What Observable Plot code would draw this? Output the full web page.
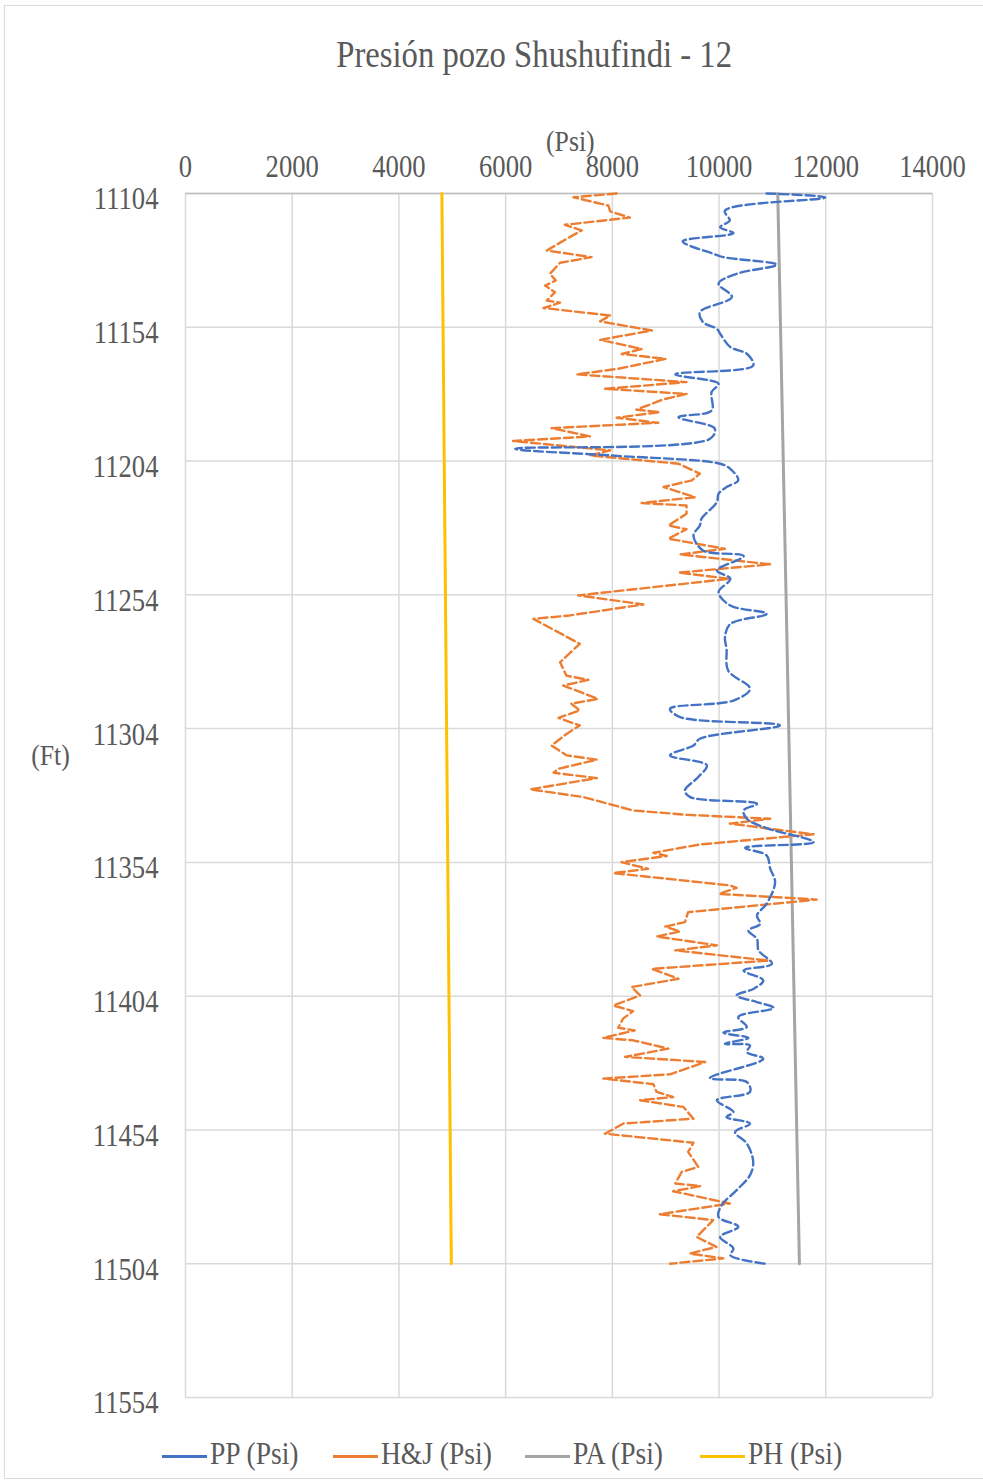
<!DOCTYPE html>
<html>
<head>
<meta charset="utf-8">
<script src="https://cdn.jsdelivr.net/npm/d3@7"></script>
<script src="https://cdn.jsdelivr.net/npm/@observablehq/plot@0.6"></script>
<style>
  html, body { margin: 0; padding: 0; background: #fff; }
  #wrap { position: relative; width: 983px; height: 1483px; overflow: hidden; font-family: "Liberation Serif", serif; color: #595959; }
  #frame { position: absolute; left: 4px; top: 5px; width: 990px; height: 1474px; border: 1px solid #d9d9d9; box-sizing: border-box; }
  .cond { display: inline-block; transform: scaleX(0.86); transform-origin: center; white-space: nowrap; }
  #title { position: absolute; top: 32px; left: 234px; width: 600px; text-align: center; font-size: 38px; }
  #psi { position: absolute; top: 124px; left: 470px; width: 200px; text-align: center; font-size: 30px; }
  #ft { position: absolute; top: 738px; left: 0px; width: 100px; text-align: center; font-size: 30px; }
  #chart { position: absolute; top: 100px; left: 0; }
  #legend { position: absolute; top: 1435px; left: 0; width: 983px; height: 42px; font-size: 32px; }
  .sw { position: absolute; top: 20px; width: 45px; height: 3px; }
  .lbl { position: absolute; top: 0; transform: scaleX(0.86); transform-origin: left center; white-space: nowrap; }
</style>
</head>
<body>
<div id="wrap">
  <div id="frame"></div>
  <div id="title"><span class="cond">Presión pozo Shushufindi - 12</span></div>
  <div id="psi"><span class="cond">(Psi)</span></div>
  <div id="ft"><span class="cond">(Ft)</span></div>
  <div id="chart"></div>
  <div id="legend"></div>
</div>
<script>
// ---- data ----
const xTicks = [0, 2000, 4000, 6000, 8000, 10000, 12000, 14000];
const yTicks = [11104, 11154, 11204, 11254, 11304, 11354, 11404, 11454, 11504, 11554];
const seriesNames = ["PP (Psi)", "H&J (Psi)", "PA (Psi)", "PH (Psi)"];
const seriesColors = ["#4472C4", "#ED7D31", "#A5A5A5", "#FFC000"];

// PP (Psi): depth (ft) and pressure (psi)
const ppDepth = [11104, 11105.5, 11110.4, 11114.1, 11116.6, 11118.8, 11121.9, 11126.5, 11127.8, 11130.6, 11134, 11137.7, 11142.7, 11148.3, 11152.1, 11154.6,
  11156.4, 11161.4, 11163.9, 11168.3, 11171.6, 11175.1, 11178.2, 11185.1, 11187.6, 11191.9, 11195.7, 11199.4, 11201.9, 11205,
  11206.9, 11211.2, 11213.7, 11216.2, 11219.3, 11225.6, 11228.1, 11231.8, 11237.4, 11239.5, 11244.9, 11248, 11253,
  11258, 11261.1, 11264.9, 11269.8, 11274.2, 11282.3, 11289.1, 11293.5, 11296.6, 11299.7, 11302.8,
  11307.8, 11310.3, 11314, 11317.7, 11322.1, 11327.1, 11329.6, 11332.1, 11334.6, 11337.7, 11341.2, 11346.4, 11348.6, 11351.4, 11356.4,
  11361.4, 11369.5, 11373.8, 11377, 11379.5, 11382.6, 11386.9, 11391.9, 11394.4, 11398.1, 11401.2, 11403.7,
  11406.2, 11408.4, 11411.8, 11415.5, 11417.6, 11419.6, 11421.8, 11422.4, 11424.9, 11427.4, 11434.6, 11436.1, 11439.8, 11442.9, 11447.3, 11449.2, 11451.6, 11454.8,
  11459.1, 11465.9, 11470.9, 11476.5, 11482.1, 11486.5, 11490.2, 11494, 11498.3, 11500.8, 11504];
const ppValue = [10890, 11990, 10110, 10200, 10020, 10270, 9320, 9890, 10080, 11080, 10330, 9990, 10240, 9640, 9700, 9960,
  10020, 10210, 10520, 10640, 9180, 9990, 9860, 9860, 9240, 9920, 9830, 6180, 7960, 10020,
  10210, 10360, 10140, 9990, 9960, 9670, 9640, 9520, 9700, 10460, 9960, 10210, 9990,
  10210, 10890, 10210, 10110, 10140, 10170, 10580, 10270, 9080, 9270, 11140,
  9640, 9520, 9080, 9770, 9610, 9360, 9460, 10710, 10460, 10520, 10890, 11770, 10490, 10890, 10960,
  11050, 10890, 10710, 10770, 10550, 10710, 10740, 10990, 10460, 10830, 10650, 10330,
  10710, 11020, 10360, 10520, 10080, 10550, 10110, 10580, 10520, 10830, 9830, 10520, 10580, 9960, 10270, 10140, 10580, 10300,
  10520, 10640, 10580, 10330, 10050, 9990, 10360, 10020, 10270, 10210, 10860];

// H&J (Psi)
const hjDepth = [11104, 11105.4, 11108.5, 11110.7, 11113, 11115.7, 11117.8, 11120.3, 11125.3, 11127.8, 11129.9, 11134, 11136.5, 11138.4, 11140.9, 11144, 11144.8, 11146.8, 11149.6, 11151.8, 11155.2,
  11158.7, 11162.1, 11164, 11165.8, 11169.5, 11171.6, 11174.5, 11177, 11178.9, 11181, 11184.8, 11185.7, 11187.8, 11189.7, 11191.7, 11194.8, 11196.5, 11200, 11201.9, 11205,
  11208.7, 11211.2, 11213.7, 11217.5, 11219.7, 11220.6, 11223.7, 11228.1, 11229.5, 11233, 11236.8, 11238.9, 11242.6, 11245.7, 11248, 11254.2,
  11257.6, 11261.7, 11263, 11272.3, 11279.2, 11284.2, 11285.8, 11287.9, 11292.9, 11294.7, 11297.2, 11300, 11302.8, 11306,
  11310.3, 11314, 11315.6, 11319, 11320.5, 11322.5, 11326.7, 11329.6, 11334.6, 11336.2, 11337.7, 11339.5, 11343.5, 11347.3, 11350.4, 11351.6, 11353.9, 11356.4,
  11358, 11362.6, 11363.5, 11365.8, 11367.9, 11372.6, 11376.3, 11378, 11379.8, 11381.7, 11385, 11386.9, 11390.7, 11393.8, 11397.5, 11400.6, 11403.7, 11407.5,
  11409.6, 11412.4, 11415.8, 11416.8, 11419.6, 11420.5, 11423.6, 11426.7, 11428.6, 11433.2, 11434.8, 11436.9, 11439.8, 11441.7, 11442.9, 11445.4, 11449.8, 11451.6, 11455.4,
  11458.8, 11462.2, 11467.8, 11469.7, 11474, 11475, 11476.9, 11481.5, 11485.5, 11487.7, 11494, 11497.7, 11500.2, 11502, 11504];
const hjValue = [8080, 7270, 7925, 7960, 8330, 7110, 7425, 7200, 6770, 7610, 7020, 6830, 6940, 6740, 6925, 6770, 7020, 6710, 7960, 7770, 8740,
  7770, 8550, 8175, 9000, 8110, 7330, 9390, 7860, 9390, 8950, 8450, 8890, 8080, 8860, 6860, 7580, 6140, 7960, 7580, 9240,
  9640, 9490, 8960, 9550, 8550, 9390, 9390, 9050, 9390, 9050, 10110, 9270, 10960, 9240, 10200, 7360,
  8580, 7200, 6520, 7390, 7020, 7140, 7550, 7080, 7730, 7230, 7390, 6990, 7390, 7140,
  6860, 7140, 7710, 6990, 6900, 7710, 6460, 7460, 8390, 9390, 10960, 10200, 11770, 9640, 8770, 9020, 8170, 8670,
  8020, 10200, 10330, 10000, 11830, 9420, 9360, 8990, 9270, 8830, 9960, 9180, 10930, 8740, 9240, 8360, 8520, 8020,
  8390, 8200, 8110, 8420, 7830, 8390, 9050, 8240, 9740, 9080, 7830, 8770, 8830, 9140, 8520, 9330, 9520, 8210, 7860,
  9520, 9420, 9610, 9300, 9180, 9650, 9140, 10200, 8890, 9890, 9580, 9950, 9450, 10080, 9080];

// PA (Psi)
const paDepth = [11104, 11254, 11504];
const paValue = [11100, 11255, 11506];

// PH (Psi)
const phDepth = [11104, 11504];
const phValue = [4805, 4982];

// ---- build rows ----
const rows = (depths, values) => depths.map((d, i) => ({d, v: values[i]}));
const pp = rows(ppDepth, ppValue);
const hj = rows(hjDepth, hjValue);
const pa = rows(paDepth, paValue);
const ph = rows(phDepth, phValue);

const grid = "#d9d9d9";
const chart = Plot.plot({
  width: 983,
  height: 1327,
  marginLeft: 185,
  marginRight: 51,
  marginTop: 93,
  marginBottom: 30,
  style: {fontFamily: "Liberation Serif", fontSize: "31px", color: "#595959", background: "transparent", overflow: "visible"},
  x: {domain: [0, 14000]},
  y: {domain: [11104, 11554], reverse: true},
  marks: [
    Plot.ruleX(xTicks, {stroke: grid, strokeWidth: 1.5}),
    Plot.ruleY(yTicks, {stroke: grid, strokeWidth: 1.5}),
    Plot.ruleY([11104], {stroke: "#bfbfbf", strokeWidth: 1.5}),
    Plot.axisX({anchor: "top", ticks: xTicks, tickSize: 0, tickPadding: 17, tickFormat: d => String(d), label: null}),
    Plot.axisY({anchor: "left", ticks: yTicks, tickSize: 0, tickPadding: 27, tickFormat: d => String(d), label: null, dy: 6}),
    Plot.line(ph, {x: "v", y: "d", stroke: seriesColors[3], strokeWidth: 3}),
    Plot.line(pa, {x: "v", y: "d", stroke: seriesColors[2], strokeWidth: 3}),
    Plot.line(hj, {x: "v", y: "d", stroke: seriesColors[1], strokeWidth: 2.4, strokeDasharray: "9,4"}),
    Plot.line(pp, {x: "v", y: "d", stroke: seriesColors[0], strokeWidth: 2.4, strokeDasharray: "9,4", curve: "catmull-rom"})
  ]
});
// condense tick text horizontally (like the narrow serif in the reference)
chart.querySelectorAll("text").forEach(t => {
  const tr = t.getAttribute("transform") || "";
  t.setAttribute("transform", tr + " scale(0.86,1)");
});
document.getElementById("chart").appendChild(chart);

// ---- legend ----
const legend = document.getElementById("legend");
const legendX = [162, 333, 525, 700];
seriesNames.forEach((name, i) => {
  const sw = document.createElement("div");
  sw.className = "sw";
  sw.style.left = legendX[i] + "px";
  sw.style.background = seriesColors[i];
  legend.appendChild(sw);
  const lb = document.createElement("div");
  lb.className = "lbl";
  lb.style.left = (legendX[i] + 48) + "px";
  lb.textContent = name;
  legend.appendChild(lb);
});
</script>
</body>
</html>
